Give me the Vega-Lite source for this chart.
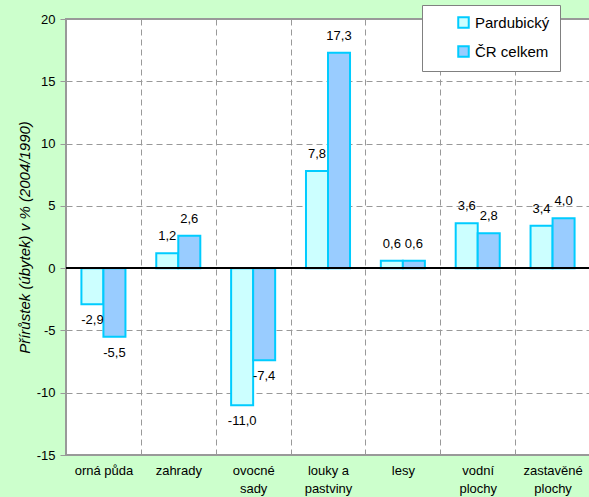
{
  "$schema": "https://vega.github.io/schema/vega-lite/v6.json",
  "width": 524,
  "height": 436,
  "autosize": {"type": "none"},
  "padding": {"left": 66, "top": 19, "right": 0, "bottom": 42},
  "background": "#ccffcc",
  "config": {
    "font": "Liberation Sans",
    "locale": {"number": {"decimal": ",", "thousands": " ", "grouping": [3], "currency": ["", " Kč"], "minus": "-"}},
    "view": {"fill": "white", "stroke": "#999999", "strokeWidth": 2}
  },
  "data": {
    "values": [
      {"kategorie": "orná půda", "oblast": "Pardubický", "hodnota": -2.9},
      {"kategorie": "orná půda", "oblast": "ČR celkem", "hodnota": -5.5},
      {"kategorie": "zahrady", "oblast": "Pardubický", "hodnota": 1.2},
      {"kategorie": "zahrady", "oblast": "ČR celkem", "hodnota": 2.6},
      {"kategorie": "ovocné sady", "oblast": "Pardubický", "hodnota": -11.0},
      {"kategorie": "ovocné sady", "oblast": "ČR celkem", "hodnota": -7.4},
      {"kategorie": "louky a pastviny", "oblast": "Pardubický", "hodnota": 7.8},
      {"kategorie": "louky a pastviny", "oblast": "ČR celkem", "hodnota": 17.3},
      {"kategorie": "lesy", "oblast": "Pardubický", "hodnota": 0.6},
      {"kategorie": "lesy", "oblast": "ČR celkem", "hodnota": 0.6},
      {"kategorie": "vodní plochy", "oblast": "Pardubický", "hodnota": 3.6},
      {"kategorie": "vodní plochy", "oblast": "ČR celkem", "hodnota": 2.8},
      {"kategorie": "zastavěné plochy", "oblast": "Pardubický", "hodnota": 3.4},
      {"kategorie": "zastavěné plochy", "oblast": "ČR celkem", "hodnota": 4.0}
    ]
  },
  "layer": [
    {
      "mark": {"type": "bar", "stroke": "#00ccff", "strokeWidth": 2},
      "encoding": {
        "x": {
          "field": "kategorie", "type": "nominal", "sort": null,
          "scale": {"paddingInner": 0, "paddingOuter": 0},
          "axis": {
            "title": null, "labelAngle": 0, "labelFontSize": 13, "labelColor": "black",
            "ticks": false, "domain": false, "grid": true, "gridDash": [6, 4], "gridColor": "#999999",
            "tickBand": "extent", "labelPadding": 9, "labelLineHeight": 18, "labelLimit": 200,
            "labelExpr": "datum.value == 'ovocné sady' ? ['ovocné','sady'] : datum.value == 'louky a pastviny' ? ['louky a','pastviny'] : datum.value == 'vodní plochy' ? ['vodní','plochy'] : datum.value == 'zastavěné plochy' ? ['zastavěné','plochy'] : datum.value"
          }
        },
        "xOffset": {"field": "oblast", "sort": ["Pardubický", "ČR celkem"], "scale": {"paddingInner": 0, "paddingOuter": 0.7}},
        "y": {
          "field": "hodnota", "type": "quantitative",
          "scale": {"domain": [-15, 20], "nice": false, "zero": false},
          "axis": {
            "values": [-15, -10, -5, 0, 5, 10, 15, 20],
            "title": "Přírůstek (úbytek) v % (2004/1990)",
            "titleFontStyle": "italic", "titleFontWeight": "normal", "titleFontSize": 15, "titleColor": "black",
            "labelFontSize": 13, "labelColor": "black", "labelPadding": 5,
            "tickColor": "#999999", "tickSize": 6, "domain": false,
            "grid": true, "gridDash": [6, 4], "gridColor": "#999999"
          }
        },
        "color": {
          "field": "oblast", "type": "nominal",
          "scale": {"domain": ["Pardubický", "ČR celkem"], "range": ["#ccffff", "#99ccff"]},
          "legend": {
            "orient": "none", "legendX": 356, "legendY": -14, "title": null,
            "fillColor": "white", "strokeColor": "#808080", "padding": 10,
            "symbolType": "square", "symbolSize": 110, "symbolStrokeColor": "#00ccff", "symbolStrokeWidth": 2,
            "symbolOffset": 24, "labelFontSize": 15, "labelColor": "black", "rowPadding": 10, "labelOffset": 4,
            "labelExpr": "datum.label + '      '"
          }
        }
      }
    },
    {
      "mark": {"type": "rule", "color": "black", "strokeWidth": 1},
      "encoding": {"y": {"datum": 0}}
    },
    {
      "transform": [{"filter": "datum.hodnota >= 0"}],
      "mark": {"type": "text", "baseline": "alphabetic", "dy": -13, "fontSize": 13, "color": "black"},
      "encoding": {
        "x": {"field": "kategorie", "type": "nominal", "sort": null},
        "xOffset": {"field": "oblast", "sort": ["Pardubický", "ČR celkem"]},
        "y": {"field": "hodnota", "type": "quantitative"},
        "text": {"field": "hodnota", "type": "quantitative", "format": ".1f"}
      }
    },
    {
      "transform": [{"filter": "datum.hodnota < 0"}],
      "mark": {"type": "text", "baseline": "alphabetic", "dy": 20, "fontSize": 13, "color": "black"},
      "encoding": {
        "x": {"field": "kategorie", "type": "nominal", "sort": null},
        "xOffset": {"field": "oblast", "sort": ["Pardubický", "ČR celkem"]},
        "y": {"field": "hodnota", "type": "quantitative"},
        "text": {"field": "hodnota", "type": "quantitative", "format": ".1f"}
      }
    }
  ]
}
